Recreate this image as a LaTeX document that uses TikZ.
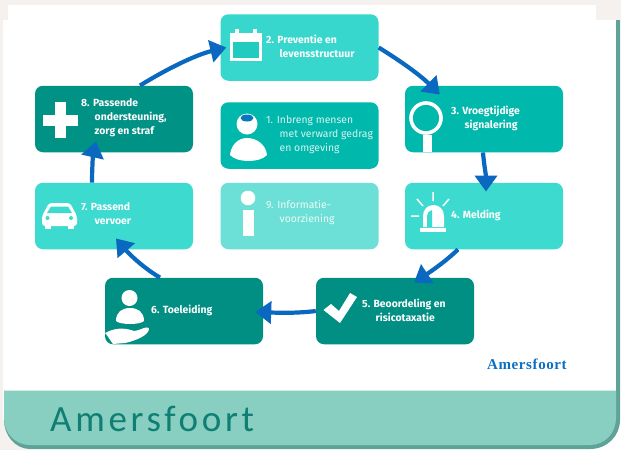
\documentclass[tikz,border=0pt]{standalone}
\usepackage{fontspec}
\setmainfont{Fira Sans}
\newfontfamily\bandfont[LetterSpace=10]{Carlito}
\newfontfamily\logofont[LetterSpace=4]{Liberation Serif}
\usetikzlibrary{arrows.meta,calc}
\definecolor{paper}{HTML}{F5F1EE}
\definecolor{bandc}{HTML}{88CFC2}
\definecolor{banddark}{HTML}{5FA398}
\definecolor{flow}{HTML}{0A68C0}
\definecolor{darkt}{HTML}{008F82}
\definecolor{midt}{HTML}{00B8AB}
\definecolor{lightt}{HTML}{3DDAD0}
\definecolor{palet}{HTML}{6CE0D6}
\definecolor{bandtext}{HTML}{0F7F73}
\definecolor{logoc}{HTML}{0B6FC4}
\tikzset{
  card/.style={draw=none,rounded corners=8pt,minimum width=158pt,minimum height=66.5pt,inner sep=0pt},
  lab/.style={anchor=west,align=left,inner sep=0pt,text=white,font=\fontsize{10.4}{14}\selectfont\bfseries},
  labplain/.style={lab,font=\fontsize{10.4}{14}\selectfont},
  flowline/.style={draw=flow,line width=4.2pt,-{Triangle[length=16pt,width=22pt,fill=flow]}},
  icon/.style={fill=white,draw=none},
  iconline/.style={draw=white,fill=none}
}
\newcommand{\ind}{\hspace*{13.5pt}}
\begin{document}
\begin{tikzpicture}[x=1pt,y=-1pt]
\useasboundingbox (0,0) rectangle (621,450);
% sheet
\fill[paper] (0,0) rectangle (621,450);
\fill[white] (3,20) rectangle (621,450);
\fill[white] (8,5) rectangle (596,22);
\fill[paper] (0,420) rectangle (30,450);
\fill[banddark] (4,395) -- (4,420) .. controls (4,435) and (15,449) .. (30,449) -- (590,449)
  .. controls (607,449) and (620,436) .. (620,420) -- (620,20) -- (616,20) -- (616,395) -- cycle;
\fill[bandc] (4,390.5) -- (4,418) .. controls (4,433) and (15,445) .. (30,445) -- (590,445)
  .. controls (605,445) and (616,433) .. (616,418) -- (616,390.5) -- cycle;
\node[inner sep=0pt,anchor=base west,text=bandtext,font=\fontsize{37}{37}\selectfont\bandfont] (bandlabel) at (50,431) {Amersfoort};
\node[inner sep=0pt,anchor=base west,text=logoc,font=\fontsize{15}{15}\selectfont\logofont\bfseries] (logo) at (487,369.5) {Amersfoort};
% cards
\node[card,fill=lightt!92!midt] (n2) at (299.5,47.5) {};
\node[card,fill=midt] (n3) at (484,119) {};
\node[card,fill=lightt] (n4) at (484,216) {};
\node[card,fill=darkt] (n5) at (395,311) {};
\node[card,fill=darkt] (n6) at (184,311) {};
\node[card,fill=lightt] (n7) at (114,216) {};
\node[card,fill=darkt!92!midt] (n8) at (114,119) {};
\node[card,fill=midt] (n1) at (299.5,135.5) {};
\node[card,fill=palet] (n9) at (299.5,216) {};
% labels
\node[lab] (l2) at (266,46) {2. Preventie en\\\ind levensstructuur};
\node[lab] (l3) at (451,118) {3. Vroegtijdige\\\ind signalering};
\node[lab] (l4) at (451,215) {4. Melding};
\node[lab] (l5) at (362,310) {5. Beoordeling en\\\ind risicotaxatie};
\node[lab] (l6) at (151,310) {6. Toeleiding};
\node[lab] (l7) at (81,214) {7. Passend\\\ind vervoer};
\node[lab] (l8) at (81,118) {8. Passende\\\ind ondersteuning,\\\ind zorg en straf};
\node[labplain,text=white!85!midt] (l1) at (266,135) {1. Inbreng mensen\\\ind met verward gedrag\\\ind en omgeving};
\node[labplain,text=white!88!palet] (l9) at (266,213) {9. Informatie-\\\ind voorziening};
% connectors
\coordinate (a8) at ($(n8.north)+(26,0)$);
\coordinate (h2) at ($(n2.west)+(6,0)$);
\draw[flowline] (a8) .. controls (165,70) and (195,55) .. (h2);
\coordinate (a2) at (n2.east);
\coordinate (h3) at ($(n3.north west)+(35,9)$);
\draw[flowline] (a2) .. controls (402,62) and (420,75) .. (h3);
\coordinate (a3) at ($(n3.south)+(-1,0)$);
\coordinate (h4) at ($(n4.north)+(2,9)$);
\draw[flowline] (a3) .. controls (484,165) and (486,175) .. (h4);
\coordinate (a4) at ($(n4.south)+(-26,0)$);
\coordinate (h5) at ($(n5.north)+(19,5)$);
\draw[flowline] (a4) .. controls (445,262) and (430,272) .. (h5);
\coordinate (a5) at (n5.west);
\coordinate (h6) at ($(n6.east)+(-8,1)$);
\draw[flowline] (a5) .. controls (300,313) and (285,313) .. (h6);
\coordinate (a6) at ($(n6.north)+(-24,0)$);
\coordinate (h7) at ($(n7.south)+(2,-11)$);
\draw[flowline] (a6) .. controls (145,269) and (130,255) .. (h7);
\coordinate (a7) at ($(n7.north)+(-22,0)$);
\coordinate (h8) at ($(n8.south)+(-18,-11)$);
\draw[flowline] (a7) .. controls (92,170) and (93,155) .. (h8);
% icon 2 calendar
\fill[icon] (230,33) rectangle (262,61);
\fill[lightt!55!midt] (233,42) rectangle (259,58);
\fill[icon] (235,29) rectangle (239,33);
\fill[icon] (253,29) rectangle (257,33);
% icon 8 cross
\fill[icon] (55,102) rectangle (66,138);
\fill[icon] (43,115) rectangle (78,126);
% icon 7 car
\fill[icon,rounded corners=3pt] (42,226) -- (42,216) -- (49,203) -- (70,203) -- (77,216) -- (77,226) -- cycle;
\fill[lightt] (47,213) -- (51,206.5) -- (68,206.5) -- (72,213) -- cycle;
\fill[icon] (45,225) rectangle (51,229);
\fill[icon] (68,225) rectangle (74,229);
\fill[lightt] (47.5,218) circle[radius=2];
\fill[lightt] (71,218) circle[radius=2];
% icon 1 person
\fill[icon] (247,124) circle[radius=10.5];
\fill[flow!80!midt] (247,118) ellipse[x radius=6.5,y radius=3.5];
\fill[icon] (230,155) .. controls (231,145) and (238,138) .. (247,138) .. controls (257,138) and (266,145) .. (267,155) .. controls (260,163) and (237,163) .. (230,155) -- cycle;
% icon 9 info
\fill[icon] (248,198) circle[radius=7.3];
\fill[icon] (243,210) rectangle (253.5,236);
% icon 3 magnifier
\draw[iconline,line width=3.6pt] (426,118) circle[radius=15];
\fill[icon] (423,135) rectangle (432,152);
% icon 4 beacon
\fill[icon] (423,227) -- (423,216) .. controls (423,209) and (428,205) .. (433.5,205) .. controls (439,205) and (444,209) .. (444,216) -- (444,227) -- cycle;
\fill[lightt] (427,227) -- (427,216) .. controls (427,213) and (429,211) .. (432,210) -- (432,227) -- cycle;
\fill[icon] (420,228) rectangle (446,232);
\draw[iconline,line width=1.5pt] (433,192) -- (433,201) (417,199) -- (423,206) (449,199) -- (443,206) (411,216) -- (419,216);
% icon 5 check
\fill[icon] (323.5,310) -- (331,304) -- (339,311) -- (350,293) -- (357,297) -- (340,323) -- cycle;
% icon 6 person in hand
\fill[icon] (129.5,298) circle[radius=8];
\fill[icon] (116,321) .. controls (116,312) and (122,308) .. (130,308) .. controls (138,308) and (144,312) .. (144,321) .. controls (140,325) and (120,325) .. (116,321) -- cycle;
\fill[icon] (105,333) .. controls (118,326) and (128,329) .. (134,331) .. controls (142,330) and (145,326) .. (149,328) .. controls (150,335) and (135,341) .. (125,343) -- (113,344) .. controls (110,340) and (108,336) .. (105,333) -- cycle;
\end{tikzpicture}
\end{document}
